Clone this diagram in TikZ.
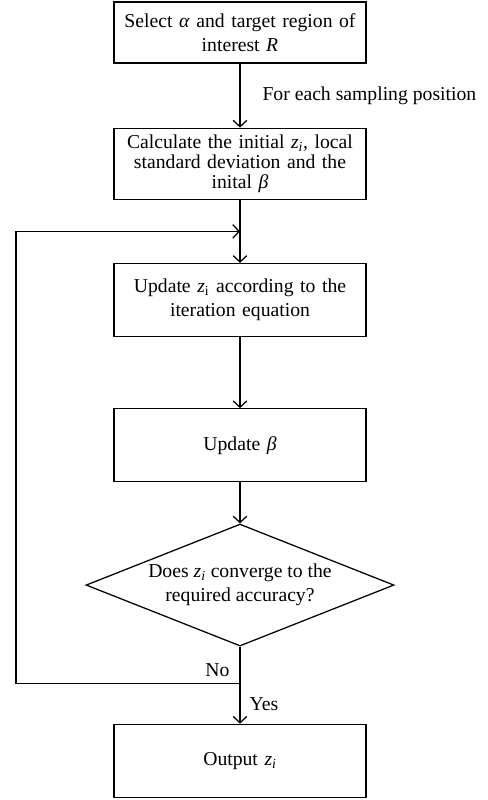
\documentclass[tikz,border=0pt]{standalone}
\usepackage{fontspec}
\setmainfont{Liberation Serif}
\usetikzlibrary{positioning,shapes.geometric,arrows.meta,calc}

\begin{document}
\begin{tikzpicture}[font=\fontsize{14}{17}\selectfont,line width=0.9pt,
  >={Straight Barb[length=1.6mm,width=3.4mm]},
  box/.style={draw,align=center,text width=61mm,minimum width=63mm,minimum height=18.25mm,inner sep=1pt},
  dec/.style={draw,diamond,aspect=2.52,align=center,inner sep=0pt,minimum width=77mm,minimum height=30.5mm}]
  \useasboundingbox (0,0) rectangle (121.75mm,-200mm);
  \node[box,minimum height=15.25mm] (sel) at (60mm,-8.125mm) {Select \textit{α} and target region of\\interest \textit{R}};
  \node[box,minimum height=17.75mm,font=\fontsize{14}{14.5}\selectfont,below=16mm of sel] (init) {Calculate the initial \textit{z\textsubscript{i}}, local\\standard deviation and the\\inital \textit{β}};
  \node[box,below=15.75mm of init] (upz) {Update \textit{z}\textsubscript{i} according to the\\iteration equation};
  \node[box,below=17.75mm of upz] (upb) {Update \textit{β}};
  \node[dec,below=10.25mm of upb] (conv) {Does \textit{z\textsubscript{i}} converge to the\\required accuracy?};
  \node[box,below=19.25mm of conv] (out) {Output \textit{z\textsubscript{i}}};
  \coordinate[below=9.25mm of conv.south] (nojoin);
  \coordinate (looptop) at ($(init.south)!0.5!(upz.north)$);
  \coordinate (loopx) at (4mm,0);
  \draw[->] (sel) -- node[right=4.3mm] {For each sampling position} (init);
  \draw[->] (init) -- (upz);
  \draw[->] (upz) -- (upb);
  \draw[->] (upb) -- (conv);
  \draw (conv) -- (nojoin);
  \draw[->] (nojoin) -- node[right=1.1mm] (yes) {Yes} (out);
  \draw[->] (nojoin) -- (nojoin -| loopx) |- (looptop);
  \node[anchor=south east,xshift=-1.3mm,yshift=0.3mm] (no) at (nojoin) {No};
\end{tikzpicture}
\end{document}
